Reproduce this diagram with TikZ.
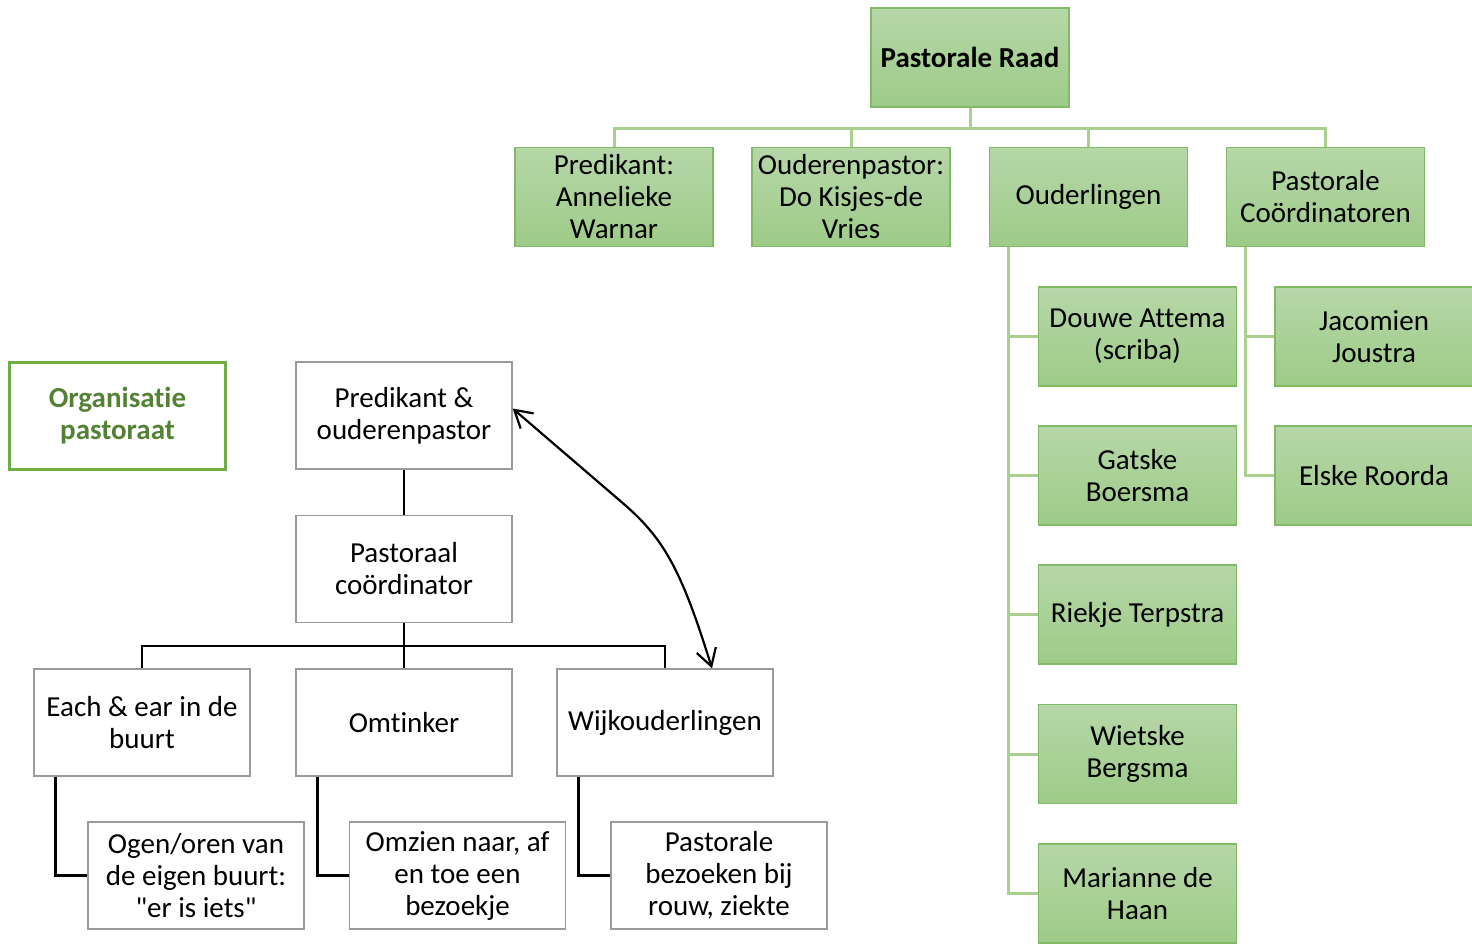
\documentclass[tikz,border=0pt]{standalone}
\usepackage{fontspec}
\setmainfont{Carlito}[Ligatures=NoCommon]
\newfontfamily\calfont{Carlito}[Ligatures=NoCommon]
\usetikzlibrary{arrows.meta}
\definecolor{gtop}{HTML}{B6D7A8}
\definecolor{gbot}{HTML}{9ECB88}
\definecolor{gborder}{HTML}{80BA64}
\definecolor{gline}{HTML}{A9D08E}
\definecolor{orgtxt}{HTML}{548235}
\definecolor{orgborder}{HTML}{70AD47}
\definecolor{wborder}{HTML}{9A9A9A}
\tikzset{barbtip/.tip={Straight Barb[length=17pt,width=20pt]}}
\begin{document}
\begin{tikzpicture}[x=1pt,y=-1pt,
  txt/.style={font=\calfont\fontsize{29}{32}\selectfont, align=center, inner sep=0pt},
  gbox/.style={txt, draw=gborder, line width=1.5pt, top color=gtop, bottom color=gbot, minimum width=198pt, minimum height=99pt},
  wbox/.style={txt, draw=wborder, line width=1.3pt, fill=white, minimum width=216pt, minimum height=107pt},
  gcon/.style={draw=gline, line width=3pt},
  bcon/.style={draw=black, line width=2.5pt},
]
\useasboundingbox (0,0) rectangle (1472,945);
% top org chart
\node[gbox, font=\calfont\fontsize{29}{32}\selectfont\bfseries] (raad) at (970,57.5) {Pastorale Raad};
\node[gbox] (pred) at (614,197) {Predikant:\\Annelieke\\Warnar};
\node[gbox] (opast) at (851,197) {Ouderenpastor:\\Do Kisjes-de\\Vries};
\node[gbox] (oud) at (1088.5,197) {Ouderlingen};
\node[gbox] (pk) at (1325.5,197) {Pastorale\\Coördinatoren};
\foreach \n in {pred,opast,oud,pk}
  \draw[gcon] (raad.south) -- ++(0,21) -| (\n.north);
% Ouderlingen children
\node[gbox] (douwe) at (1137.5,336.5) {Douwe Attema\\(scriba)};
\node[gbox] (gatske) at (1137.5,475.5) {Gatske\\Boersma};
\node[gbox] (riekje) at (1137.5,614.5) {Riekje Terpstra};
\node[gbox] (wietske) at (1137.5,754) {Wietske\\Bergsma};
\node[gbox] (marianne) at (1137.5,893.5) {Marianne de\\Haan};
\foreach \n in {douwe,gatske,riekje,wietske,marianne}
  \draw[gcon] ([xshift=20pt]oud.south west) |- (\n.west);
% Coordinatoren children
\node[gbox] (jac) at (1374,336.5) {Jacomien\\Joustra};
\node[gbox] (elske) at (1374,475.5) {Elske Roorda};
\foreach \n in {jac,elske}
  \draw[gcon] ([xshift=20pt]pk.south west) |- (\n.west);
% label box
\node[txt, draw=orgborder, line width=2.5pt, minimum width=216pt, minimum height=107pt, text=orgtxt, font=\calfont\fontsize{29}{32}\selectfont\bfseries] (org) at (117.5,416) {Organisatie\\pastoraat};
% left tree
\node[wbox] (pro) at (404,415.5) {Predikant \&\\ouderenpastor};
\node[wbox] (pc) at (404,569) {Pastoraal\\coördinator};
\node[wbox] (each) at (142,722.5) {Each \& ear in de\\buurt};
\node[wbox] (omt) at (404,722.5) {Omtinker};
\node[wbox] (wijk) at (665,722.5) {Wijkouderlingen};
\node[wbox] (ogen) at (196,875.5) {Ogen/oren van\\de eigen buurt:\\"er is iets"};
\node[wbox] (omz) at (457.5,875.5) {Omzien naar, af\\en toe een\\bezoekje};
\node[wbox] (pbz) at (719,875.5) {Pastorale\\bezoeken bij\\rouw, ziekte};
\draw[bcon] (pro.south) -- (pc.north);
\draw[bcon] (pc.south) -- (omt.north);
\draw[bcon] (pc.south) ++(0,23) -| (each.north);
\draw[bcon] (pc.south) ++(0,23) -| (wijk.north);
\draw[bcon] ([xshift=22pt]each.south west) |- (ogen.west);
\draw[bcon] ([xshift=22pt]omt.south west) |- (omz.west);
\draw[bcon] ([xshift=22pt]wijk.south west) |- (pbz.west);
% double arrow
\coordinate (bend) at (625,505);
\draw[line width=2.2pt, barbtip-barbtip]
  ([yshift=7pt]pro.east) -- (bend) .. controls (665,540) and (682,572) .. ([xshift=47pt]wijk.north);
\end{tikzpicture}
\end{document}
